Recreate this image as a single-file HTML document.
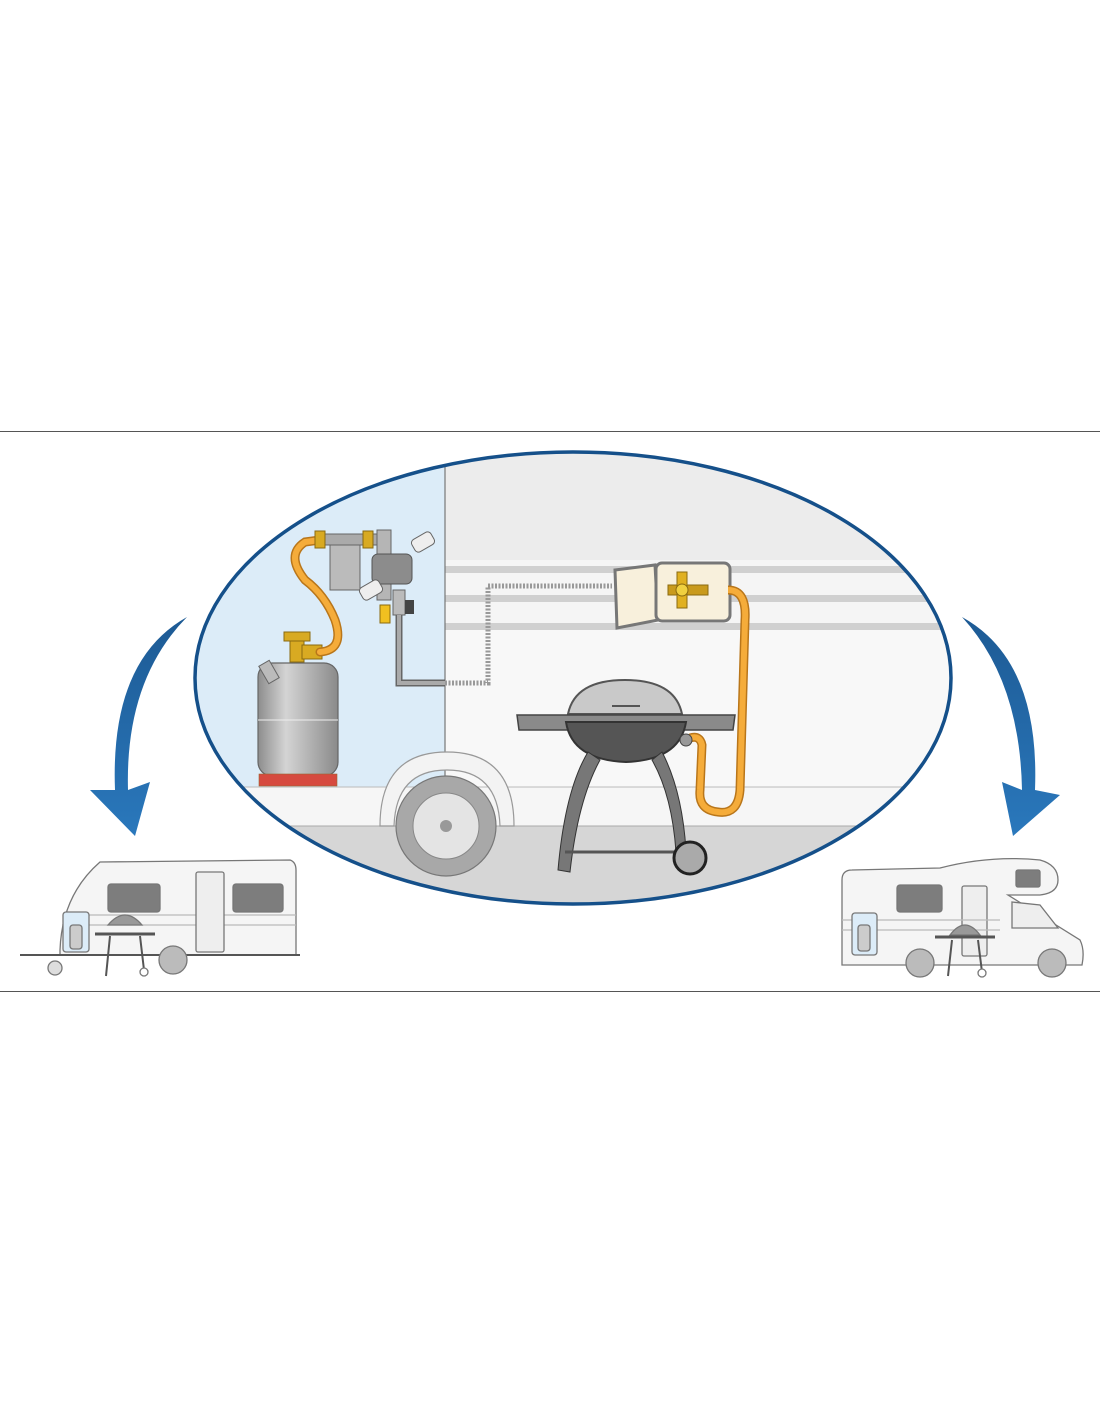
<!DOCTYPE html>
<html><head><meta charset="utf-8"><style>
html,body{margin:0;padding:0;background:#fff;}
svg{display:block}
</style></head><body>
<svg width="1100" height="1422" viewBox="0 0 1100 1422" xmlns="http://www.w3.org/2000/svg">
<defs>
<clipPath id="ell"><ellipse cx="573" cy="678" rx="378" ry="226"/></clipPath>
<linearGradient id="cyl" x1="0" x2="1"><stop offset="0" stop-color="#8d8d8d"/><stop offset=".35" stop-color="#d4d4d4"/><stop offset="1" stop-color="#8a8a8a"/></linearGradient>
<linearGradient id="arr" x1="0" y1="0" x2="0" y2="1"><stop offset="0" stop-color="#1d5a94"/><stop offset="1" stop-color="#2a78bc"/></linearGradient>
</defs>
<rect width="1100" height="1422" fill="#fff"/>
<line x1="0" y1="431.5" x2="1100" y2="431.5" stroke="#555" stroke-width="1"/>
<line x1="0" y1="991.5" x2="1100" y2="991.5" stroke="#555" stroke-width="1"/>

<g clip-path="url(#ell)">
  <rect x="190" y="445" width="770" height="470" fill="#ececec"/>
  <rect x="445" y="560" width="520" height="80" fill="#f5f5f5"/>
  <rect x="445" y="566" width="520" height="7" fill="#d0d0d0"/>
  <rect x="445" y="595" width="520" height="7" fill="#d0d0d0"/>
  <rect x="445" y="623" width="520" height="7" fill="#d0d0d0"/>
  <rect x="445" y="630" width="520" height="160" fill="#f8f8f8"/>
  <rect x="190" y="445" width="255" height="342" fill="#dcecf8"/>
  <line x1="445" y1="445" x2="445" y2="787" stroke="#777" stroke-width="1.2"/>
  <rect x="190" y="787" width="770" height="40" fill="#f6f6f6"/>
  <line x1="190" y1="787" x2="960" y2="787" stroke="#bbb" stroke-width="1"/>
  <rect x="190" y="826" width="770" height="90" fill="#d6d6d6"/>
  <line x1="190" y1="826" x2="960" y2="826" stroke="#aaa" stroke-width="1"/>

  <!-- fender + wheel -->
  <path d="M380 826 Q380 752 447 752 Q514 752 514 826 L500 826 Q498 770 447 770 Q396 770 394 826 Z" fill="#f3f3f3" stroke="#999" stroke-width="1.2"/>
  <circle cx="446" cy="826" r="50" fill="#a8a8a8" stroke="#777" stroke-width="1.2"/>
  <circle cx="446" cy="826" r="33" fill="#e4e4e4" stroke="#888"/>
  <circle cx="446" cy="826" r="6" fill="#999"/>

  <!-- cylinder -->
  <rect x="258" y="663" width="80" height="113" rx="14" fill="url(#cyl)" stroke="#666" stroke-width="1.2"/>
  <line x1="258" y1="720" x2="338" y2="720" stroke="#eee" stroke-width="1"/>
  <rect x="259" y="774" width="78" height="12" fill="#d64a3f" stroke="#963" stroke-width=".6"/>
  <rect x="263" y="662" width="12" height="20" fill="#bbb" stroke="#666" transform="rotate(-30 269 672)"/>
  <rect x="290" y="640" width="14" height="22" fill="#d8aa22" stroke="#8a6a10"/>
  <rect x="284" y="632" width="26" height="9" fill="#d8aa22" stroke="#8a6a10"/>
  <rect x="302" y="645" width="20" height="14" fill="#d8aa22" stroke="#8a6a10"/>

  <path d="M320 652 Q345 650 335 620 Q325 595 305 580 Q285 555 305 542 L320 540" fill="none" stroke="#b9761a" stroke-width="9" stroke-linecap="round"/>
  <path d="M320 652 Q345 650 335 620 Q325 595 305 580 Q285 555 305 542 L320 540" fill="none" stroke="#f5ac3a" stroke-width="6" stroke-linecap="round"/>

  <rect x="318" y="534" width="62" height="11" fill="#aaa" stroke="#666"/>
  <rect x="315" y="531" width="10" height="17" fill="#d8aa22" stroke="#8a6a10"/>
  <rect x="363" y="531" width="10" height="17" fill="#d8aa22" stroke="#8a6a10"/>
  <rect x="330" y="545" width="30" height="45" fill="#bbb" stroke="#666"/>
  <rect x="377" y="530" width="14" height="70" fill="#b5b5b5" stroke="#666"/>
  <rect x="372" y="554" width="40" height="30" rx="6" fill="#8c8c8c" stroke="#555"/>
  <rect x="412" y="535" width="22" height="14" rx="4" fill="#eee" stroke="#666" transform="rotate(-30 423 542)"/>
  <rect x="360" y="583" width="22" height="14" rx="4" fill="#eee" stroke="#666" transform="rotate(-30 371 590)"/>
  <rect x="393" y="590" width="12" height="25" fill="#bbb" stroke="#666"/>
  <rect x="380" y="605" width="10" height="18" fill="#f0c020" stroke="#8a6a10"/>
  <rect x="405" y="600" width="9" height="14" fill="#444"/>
  <path d="M399 615 L399 683 L445 683" fill="none" stroke="#666" stroke-width="7"/>
  <path d="M399 615 L399 683 L445 683" fill="none" stroke="#aaa" stroke-width="4"/>
  <path d="M445 683 L488 683 L488 586 L612 586" fill="none" stroke="#999" stroke-width="5" stroke-dasharray="2 1.5"/>

  <path d="M615 570 L655 565 L658 620 L617 628 Z" fill="#f8f0dc" stroke="#777" stroke-width="3"/>
  <rect x="656" y="563" width="74" height="58" rx="6" fill="#f8f0dc" stroke="#777" stroke-width="3"/>
  <rect x="668" y="585" width="40" height="10" fill="#c99a1c" stroke="#8a6a10"/>
  <rect x="677" y="572" width="10" height="36" fill="#e0b020" stroke="#8a6a10"/>
  <circle cx="682" cy="590" r="6" fill="#f0d040" stroke="#8a6a10"/>
  <path d="M728 590 Q747 590 745 620 L740 790 Q738 815 718 812 Q698 810 700 790 L702 745 Q700 735 690 738" fill="none" stroke="#b9761a" stroke-width="9"/>
  <path d="M728 590 Q747 590 745 620 L740 790 Q738 815 718 812 Q698 810 700 790 L702 745 Q700 735 690 738" fill="none" stroke="#f5ac3a" stroke-width="6"/>

  <!-- grill -->
  <path d="M568 714 Q575 680 625 680 Q675 680 682 714 Z" fill="#c9c9c9" stroke="#555" stroke-width="2"/>
  <line x1="612" y1="706" x2="640" y2="706" stroke="#555" stroke-width="2"/>
  <path d="M517 715 L735 715 L733 730 L519 730 Z" fill="#8a8a8a" stroke="#444" stroke-width="1.5"/>
  <path d="M566 722 L686 722 Q680 760 626 762 Q572 760 566 722 Z" fill="#555" stroke="#333" stroke-width="2"/>
  <circle cx="686" cy="740" r="6" fill="#999" stroke="#444"/>
  <path d="M588 752 Q565 790 558 870 L570 872 Q578 800 600 760 Z" fill="#777" stroke="#333"/>
  <path d="M662 752 Q682 790 686 850 L676 852 Q672 795 652 760 Z" fill="#777" stroke="#333"/>
  <line x1="565" y1="852" x2="680" y2="852" stroke="#555" stroke-width="3"/>
  <circle cx="690" cy="858" r="16" fill="#aaa" stroke="#222" stroke-width="3"/>
</g>
<ellipse cx="573" cy="678" rx="378" ry="226" fill="none" stroke="#15508a" stroke-width="3.5"/>

<path d="M187 617 Q110 660 115 790 L90 790 L135 836 L150 782 L128 790 Q125 680 187 617 Z" fill="url(#arr)"/>
<path d="M962 617 Q1040 660 1035 790 L1060 795 L1013 836 L1002 782 L1022 790 Q1020 680 962 617 Z" fill="url(#arr)"/>

<g stroke="#777" stroke-width="1.3">
  <path d="M60 950 Q62 895 100 862 L290 860 Q296 862 296 870 L296 955 L60 955 Z" fill="#f5f5f5"/>
  <line x1="75" y1="915" x2="296" y2="915" stroke="#bbb"/>
  <line x1="62" y1="925" x2="296" y2="925" stroke="#bbb"/>
  <rect x="108" y="884" width="52" height="28" rx="3" fill="#7d7d7d"/>
  <rect x="233" y="884" width="50" height="28" rx="3" fill="#7d7d7d"/>
  <rect x="196" y="872" width="28" height="80" rx="2" fill="#eee"/>
  <rect x="63" y="912" width="26" height="40" rx="3" fill="#dcecf8"/>
  <rect x="70" y="925" width="12" height="24" rx="3" fill="#ccc"/>
  <line x1="20" y1="955" x2="300" y2="955" stroke="#555" stroke-width="2"/>
  <circle cx="173" cy="960" r="14" fill="#bbb"/>
  <circle cx="55" cy="968" r="7" fill="#ddd"/>
  <path d="M108 925 Q125 905 142 925 Z" fill="#999"/>
  <line x1="95" y1="934" x2="155" y2="934" stroke="#555" stroke-width="3"/>
  <path d="M110 936 L106 976 M140 936 L144 970" stroke="#555" stroke-width="2"/>
  <circle cx="144" cy="972" r="4" fill="#fff"/>
</g>

<g stroke="#777" stroke-width="1.3">
  <path d="M842 880 Q842 870 852 870 L940 868 Q990 855 1040 860 Q1058 865 1058 880 Q1058 893 1040 895 L1008 895 L1040 915 L1080 940 Q1085 950 1082 965 L842 965 Z" fill="#f5f5f5"/>
  <rect x="897" y="885" width="45" height="27" rx="3" fill="#7d7d7d"/>
  <rect x="1016" y="870" width="24" height="17" rx="2" fill="#7d7d7d"/>
  <rect x="962" y="886" width="25" height="70" rx="2" fill="#eee"/>
  <path d="M1012 902 L1040 905 L1058 928 L1012 928 Z" fill="#eee"/>
  <line x1="842" y1="920" x2="1000" y2="920" stroke="#bbb"/>
  <line x1="842" y1="930" x2="1000" y2="930" stroke="#bbb"/>
  <rect x="852" y="913" width="25" height="42" rx="3" fill="#dcecf8"/>
  <rect x="858" y="925" width="12" height="26" rx="3" fill="#ccc"/>
  <circle cx="920" cy="963" r="14" fill="#bbb"/>
  <circle cx="1052" cy="963" r="14" fill="#bbb"/>
  <path d="M950 935 Q965 915 980 935 Z" fill="#999"/>
  <line x1="935" y1="937" x2="995" y2="937" stroke="#555" stroke-width="3"/>
  <path d="M952 940 L948 976 M978 940 L982 972" stroke="#555" stroke-width="2"/>
  <circle cx="982" cy="973" r="4" fill="#fff"/>
</g>
</svg>
</body></html>
